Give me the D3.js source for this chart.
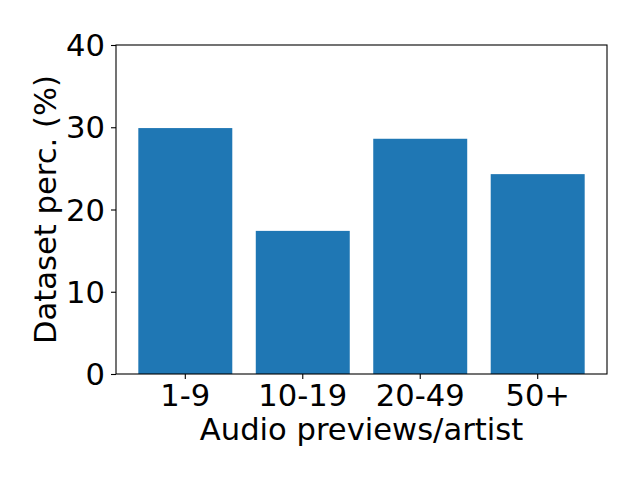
<!DOCTYPE html>
<html>
<head>
<meta charset="utf-8">
<script src="https://cdn.jsdelivr.net/npm/d3@7"></script>
<style>
  body { margin: 0; background: #fff; }
  text { font-family: "DejaVu Sans", sans-serif; fill: #000; }
</style>
</head>
<body>
<svg id="chart" width="640" height="480"></svg>
<script>
// chart data
const categories = ["1-9", "10-19", "20-49", "50+"];
const percents = [29.9, 17.4, 28.6, 24.3];
const yTicks = [0, 10, 20, 30, 40];

const WIDTH = 640;
const HEIGHT = 480;
const MARGIN = { left: 116, right: 33, top: 45, bottom: 106 };
const FONT = 30.6;

const svg = d3.select("#chart");

const xScale = d3.scaleBand()
  .domain(categories)
  .range([MARGIN.left, WIDTH - MARGIN.right])
  .paddingInner(0.2)
  .paddingOuter(0.19);

const yScale = d3.scaleLinear()
  .domain([0, 40])
  .range([HEIGHT - MARGIN.bottom, MARGIN.top]);

// bars
svg.append("g")
  .selectAll("rect")
  .data(categories)
  .join("rect")
  .attr("x", d => xScale(d))
  .attr("width", xScale.bandwidth())
  .attr("y", (d, i) => yScale(percents[i]))
  .attr("height", (d, i) => yScale(0) - yScale(percents[i]))
  .attr("fill", "#1f77b4");

// y axis
const yAxis = svg.append("g")
  .attr("transform", `translate(${MARGIN.left},0)`)
  .call(d3.axisLeft(yScale).tickValues(yTicks).tickSize(5).tickPadding(6));
yAxis.select(".domain").remove();
yAxis.selectAll(".tick line").attr("stroke", "#000").attr("stroke-width", 1.1);
yAxis.selectAll(".tick text")
  .style("font-size", FONT + "px")
  .attr("dy", "0.35em");

// x axis
const xAxis = svg.append("g")
  .attr("transform", `translate(0,${HEIGHT - MARGIN.bottom})`)
  .call(d3.axisBottom(xScale).tickSize(5).tickPadding(5));
xAxis.select(".domain").remove();
xAxis.selectAll(".tick line").attr("stroke", "#000").attr("stroke-width", 1.1);
xAxis.selectAll(".tick text")
  .style("font-size", FONT + "px")
  .attr("dy", "0.71em");

// frame
svg.append("rect")
  .attr("x", MARGIN.left)
  .attr("y", MARGIN.top)
  .attr("width", WIDTH - MARGIN.left - MARGIN.right)
  .attr("height", HEIGHT - MARGIN.top - MARGIN.bottom)
  .attr("fill", "none")
  .attr("stroke", "#000")
  .attr("stroke-width", 1.1);

// axis labels
svg.append("text")
  .attr("x", (MARGIN.left + WIDTH - MARGIN.right) / 2)
  .attr("y", 440)
  .attr("text-anchor", "middle")
  .style("font-size", FONT + "px")
  .text("Audio previews/artist");

svg.append("text")
  .attr("transform", `translate(56,${(MARGIN.top + HEIGHT - MARGIN.bottom) / 2}) rotate(-90)`)
  .attr("text-anchor", "middle")
  .style("font-size", FONT + "px")
  .text("Dataset perc. (%)");
</script>
</body>
</html>
